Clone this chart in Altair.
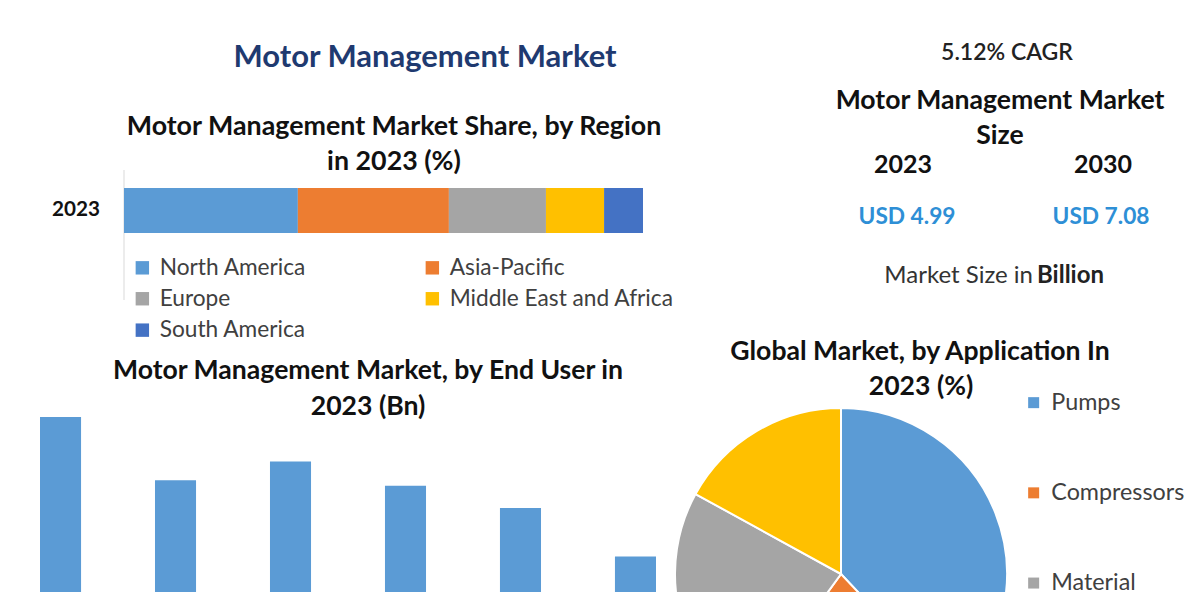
import altair as alt
import pandas as pd

# ---------------- data ----------------
regions = ["North America", "Asia-Pacific", "Europe", "Middle East and Africa", "South America"]
region_share = [33.5, 29.1, 18.7, 11.2, 7.5]
region_colors = ["#5B9BD5", "#ED7D31", "#A5A5A5", "#FFC000", "#4472C4"]
region_year = "2023"

end_users = ["Oil & Gas", "Water & Wastewater", "Chemicals", "Power Generation", "Mining", "Others"]
end_user_values = [1.20, 0.86, 0.96, 0.83, 0.71, 0.45]

applications = ["Pumps", "Compressors", "Material", "Others"]
application_share = [38, 22, 23, 17]
application_colors = ["#5B9BD5", "#ED7D31", "#A5A5A5", "#FFC000"]

cagr_text = "5.12% CAGR"
size_years = ["2023", "2030"]
size_values = [4.99, 7.08]

# ---------------- layout ----------------
W, H = 1184, 584
OX, OY = 8, 8
FONT = "Lato"


def txt(s, x, y, size, color="#111111", weight="bold", align="center"):
    return alt.Chart(pd.DataFrame({"t": [s]})).mark_text(
        font=FONT, fontSize=size, fontWeight=weight, color=color,
        align=align, baseline="middle"
    ).encode(x=alt.value(x - OX), y=alt.value(y - OY), text="t:N")


layers = []

# titles
layers.append(txt("Motor Management Market", 425, 58, 31, color="#1F3A70"))
layers.append(txt("Motor Management Market Share, by Region", 394, 127, 26.8))
layers.append(txt("in 2023 (%)", 394, 162, 26.8))
layers.append(txt("Motor Management Market, by End User in", 368, 371, 26.6))
layers.append(txt("2023 (Bn)", 368, 407, 26.6))
layers.append(txt("Global Market, by Application In", 920, 352, 26.6))
layers.append(txt("2023 (%)", 921, 387, 26.6))

# right info panel
layers.append(txt(cagr_text, 1007, 53, 23, color="#222222", weight=600))
layers.append(txt("Motor Management Market", 1000, 101, 26.6))
layers.append(txt("Size", 1000, 136, 26.6))
layers.append(txt(size_years[0], 903, 165, 25))
layers.append(txt(size_years[1], 1103, 165, 25))
layers.append(txt(f"USD {size_values[0]:.2f}", 907, 217, 22.7, color="#2E8FD6"))
layers.append(txt(f"USD {size_values[1]:.2f}", 1101, 217, 22.7, color="#2E8FD6"))
layers.append(txt("Market Size in", 1033, 276, 24, color="#333333", weight="normal", align="right"))
layers.append(txt("Billion", 1037, 276, 24, color="#222222", weight="bold", align="left"))

# region stacked bar
df_reg = pd.DataFrame({"region": regions, "share": region_share,
                       "year": [region_year] * len(regions),
                       "order": list(range(len(regions)))})
axis_line = alt.Chart(pd.DataFrame({"a": [0]})).mark_rule(color="#D9D9D9", strokeWidth=1).encode(
    x=alt.value(124 - OX), y=alt.value(170 - OY), y2=alt.value(300 - OY)
)
layers.append(axis_line)
region_bar = alt.Chart(df_reg).mark_bar().encode(
    x=alt.X("share:Q", stack="zero", axis=None,
            scale=alt.Scale(domain=[0, 100], range=[124 - OX, 643 - OX], nice=False)),
    y=alt.Y("year:N", axis=None,
            scale=alt.Scale(range=[188 - OY, 233 - OY], paddingInner=0, paddingOuter=0)),
    color=alt.Color("region:N", scale=alt.Scale(domain=regions, range=region_colors),
                    legend=alt.Legend(title=None, orient="none", legendX=131 - OX, legendY=256 - OY,
                                      direction="horizontal", columns=2, symbolType="square",
                                      symbolSize=180, symbolStrokeWidth=0, labelFont=FONT,
                                      labelFontSize=22.7, labelColor="#404040", labelOffset=6,
                                      rowPadding=7.4, columnPadding=114, labelLimit=400, padding=0)),
    order=alt.Order("order:Q"),
)
layers.append(region_bar)
layers.append(txt(region_year, 76, 210, 20.7))

# end user bars
df_eu = pd.DataFrame({"end_user": end_users, "value": end_user_values})
eu_bars = alt.Chart(df_eu).mark_bar(color="#5B9BD5").encode(
    x=alt.X("end_user:N", sort=end_users, axis=None,
            scale=alt.Scale(range=[40 - OX, 656 - OX], paddingInner=0.643, paddingOuter=0)),
    y=alt.Y("value:Q", axis=None,
            scale=alt.Scale(domain=[0, 1.2], range=[640 - OY, 417 - OY], nice=False, zero=True)),
)
layers.append(eu_bars)

# pie
df_app = pd.DataFrame({"application": applications, "share": application_share,
                       "order": list(range(len(applications)))})
pie = alt.Chart(df_app).mark_arc(outerRadius=166, stroke="white", strokeWidth=2).encode(
    theta=alt.Theta("share:Q", stack=True),
    order=alt.Order("order:Q"),
    color=alt.Color("application:N", scale=alt.Scale(domain=applications, range=application_colors),
                    legend=alt.Legend(title=None, orient="none", legendX=1022 - OX, legendY=391 - OY,
                                      symbolType="square", symbolSize=121, symbolStrokeWidth=0,
                                      labelFont=FONT, labelFontSize=23.3, labelColor="#404040",
                                      labelOffset=6, rowPadding=66.2, labelLimit=400, padding=0)),
    x=alt.value(841 - OX),
    y=alt.value(574 - OY),
)
layers.append(pie)

chart = alt.layer(*layers).resolve_scale(
    x="independent", y="independent", color="independent", theta="independent"
).properties(
    width=W, height=H, autosize=alt.AutoSizeParams(type="none"), padding=0, background="white"
).configure_view(strokeWidth=0)

chart.save("out.html", embed_options={"renderer": "svg", "actions": False})
